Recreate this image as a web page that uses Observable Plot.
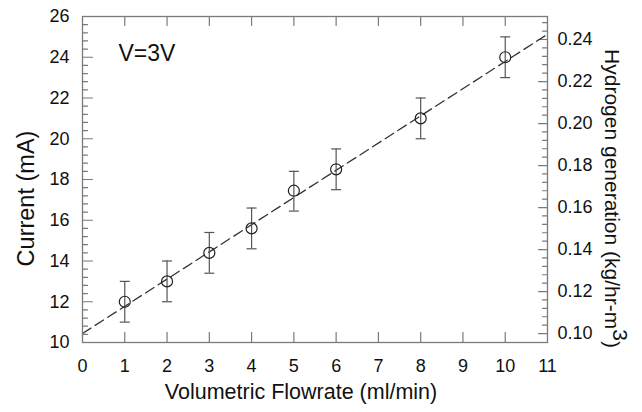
<!DOCTYPE html>
<html><head><meta charset="utf-8">
<script src="https://cdn.jsdelivr.net/npm/d3@7"></script>
<script src="https://cdn.jsdelivr.net/npm/@observablehq/plot@0.6"></script>
<style>body{margin:0;background:#fff}</style>
</head><body><div id="chart"></div>
<script>
const flowrate = [1, 2, 3, 4, 5, 6, 8, 10];
const current = [12.0, 13.0, 14.4, 15.6, 17.45, 18.5, 21.0, 24.0];
const errLow = [11.0, 12.0, 13.4, 14.6, 16.45, 17.5, 20.0, 23.0];
const errHigh = [13.0, 14.0, 15.4, 16.6, 18.4, 19.5, 22.0, 25.0];
const fitX = [0, 11];
const fitY = [10.44, 25.13];
const xTicks = [0, 1, 2, 3, 4, 5, 6, 7, 8, 9, 10, 11];
const yTicks = [10, 12, 14, 16, 18, 20, 22, 24, 26];
const h2Ticks = [0.10, 0.12, 0.14, 0.16, 0.18, 0.20, 0.22, 0.24];
const h2TickLabels = ["0.10", "0.12", "0.14", "0.16", "0.18", "0.20", "0.22", "0.24"];
const h2Ref = [0.10, 0.24];
const currentRef = [10.44, 24.87];
const annotation = ["V=3V"];
const xTitle = "Volumetric Flowrate (ml/min)";
const yTitle = "Current (mA)";
const y2TitleParts = ["Hydrogen generation (kg/hr-m", "3", ")"];

const toCurrent = d3.scaleLinear().domain(h2Ref).range(currentRef);
const rows = flowrate.map((x, i) => ({x, y: current[i], lo: errLow[i], hi: errHigh[i]}));
const fitRows = fitX.map((x, i) => ({x, y: fitY[i]}));
const h2Major = h2Ticks.map(toCurrent);
const labelMap = new Map(h2Major.map((c, i) => [c, h2TickLabels[i]]));
const yMinor = d3.range(10, 26.001, 0.4).filter(v => Math.abs(v / 2 - Math.round(v / 2)) > 0.01 && v > 10.05 && v < 25.95);
const h2Minor = d3.range(0.096, 0.2521, 0.004).filter(v => Math.abs(v / 0.02 - Math.round(v / 0.02)) > 0.01)
  .map(toCurrent).filter(c => c > 10.1 && c < 25.9);

const tickShape = {draw(ctx, l) { ctx.moveTo(0, 0); ctx.lineTo(0, -l); }};
const capSymbol = {draw(ctx) { ctx.moveTo(-5, 0); ctx.lineTo(5, 0); }};
const gray = "#7a7a7a";
const font = "Liberation Sans, Arial, Helvetica, sans-serif";
const y2Title = y2TitleParts.join("");

const tickV = (data, opts) => Plot.vector(data, {anchor: "start", shape: tickShape, stroke: gray, strokeWidth: 1.2, ...opts});

const svg = Plot.plot({
  width: 642, height: 412,
  marginLeft: 82, marginRight: 95, marginTop: 16, marginBottom: 70,
  style: {fontFamily: font, fontSize: "18px", background: "#fff", color: "#111"},
  x: {domain: [0, 11], label: null},
  y: {domain: [10, 26], label: null},
  marks: [
    Plot.axisX({ticks: xTicks, tickSize: 0, tickPadding: 17, fontSize: 18, label: null}),
    Plot.axisY({ticks: yTicks, tickSize: 0, tickPadding: 13, fontSize: 18, label: null}),
    Plot.axisY({anchor: "right", ticks: h2Major, tickFormat: d => labelMap.get(d), tickSize: 0, tickPadding: 10, fontSize: 18, label: null}),
    tickV(xTicks.slice(1, -1), {x: d => d, frameAnchor: "bottom", rotate: 0, length: 10}),
    tickV(xTicks.slice(1, -1), {x: d => d, frameAnchor: "top", rotate: 180, length: 9}),
    tickV(yTicks.slice(1, -1), {y: d => d, frameAnchor: "left", rotate: 90, length: 10}),
    tickV(yMinor, {y: d => d, frameAnchor: "left", rotate: 90, length: 5}),
    tickV(h2Major, {y: d => d, frameAnchor: "right", rotate: -90, length: 9}),
    tickV(h2Minor, {y: d => d, frameAnchor: "right", rotate: -90, length: 5}),
    Plot.line(fitRows, {x: "x", y: "y", stroke: "#333", strokeWidth: 1.3, strokeDasharray: "10,5"}),
    Plot.ruleX(rows, {x: "x", y1: "lo", y2: "hi", stroke: "#555", strokeWidth: 1.2}),
    Plot.dot(rows, {x: "x", y: "lo", symbol: capSymbol, fill: "none", stroke: "#555", strokeWidth: 1.2}),
    Plot.dot(rows, {x: "x", y: "hi", symbol: capSymbol, fill: "none", stroke: "#555", strokeWidth: 1.2}),
    Plot.dot(rows, {x: "x", y: "y", r: 5.5, fill: "none", stroke: "#222", strokeWidth: 1.2}),
    Plot.frame({stroke: gray, strokeWidth: 1.3}),
    Plot.text(annotation, {frameAnchor: "top-left", dx: 36, dy: 37, textAnchor: "start", lineAnchor: "middle", fontSize: 23, fill: "#111"}),
    Plot.text([xTitle], {frameAnchor: "bottom", dx: -14, dy: 50, textAnchor: "middle", lineAnchor: "middle", fontSize: 21.5, fill: "#111"}),
    Plot.text([yTitle], {frameAnchor: "left", dx: -56, dy: 19, rotate: -90, textAnchor: "middle", lineAnchor: "middle", fontSize: 23.5, fill: "#111"}),
    Plot.text([y2Title], {frameAnchor: "right", dx: 64, dy: 19, rotate: 90, textAnchor: "middle", lineAnchor: "middle", fontSize: 21, fill: "#111"})
  ]
});

d3.select(svg).selectAll("text").filter(function() { return this.textContent === y2Title; }).each(function() {
  const t = d3.select(this);
  t.text(null);
  t.append("tspan").text(y2TitleParts[0]);
  t.append("tspan").attr("dy", "-0.4em").text(y2TitleParts[1]);
  t.append("tspan").attr("dy", "0.4em").text(y2TitleParts[2]);
});

document.getElementById("chart").appendChild(svg);
</script>
</body></html>
